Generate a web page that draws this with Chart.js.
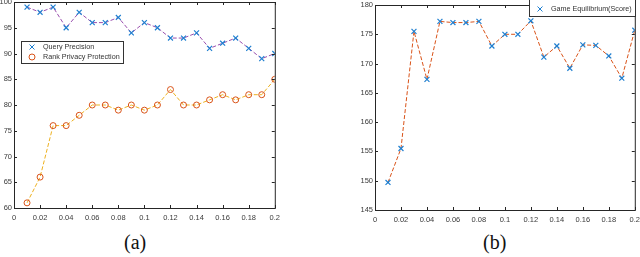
<!DOCTYPE html>
<html>
<head>
<meta charset="UTF-8">
<script src="https://cdn.jsdelivr.net/npm/chart.js@4.4.1/dist/chart.umd.min.js"></script>
<style>
  html, body { margin: 0; padding: 0; background: #fff; width: 640px; height: 257px; overflow: hidden; }
  .wrap { position: absolute; }
  #boxA { left: 0; top: -6px; width: 285px; height: 232px; }
  #boxB { left: 340px; top: -3px; width: 305px; height: 231px; }
  .cap { position: absolute; font-family: "Liberation Serif", "DejaVu Serif", serif; font-size: 20px; color: #111; }
</style>
</head>
<body>
<div class="wrap" id="boxA"><canvas id="chartA"></canvas></div>
<div class="wrap" id="boxB"><canvas id="chartB"></canvas></div>
<div class="cap" style="left:124px; top:231px;">(a)</div>
<div class="cap" style="left:483px; top:231px;">(b)</div>

<script>
// x values shared by both plots
const xs = [0.01, 0.02, 0.03, 0.04, 0.05, 0.06, 0.07, 0.08, 0.09, 0.1,
            0.11, 0.12, 0.13, 0.14, 0.15, 0.16, 0.17, 0.18, 0.19, 0.2];

// (a)
const queryPrecision = [99, 98, 99, 95, 98, 96, 96, 97, 94, 96, 95, 93, 93, 94, 91, 92, 93, 91, 89, 90];
const rankPrivacy    = [61, 66, 76, 76, 78, 80, 80, 79, 80, 79, 80, 83, 80, 80, 81, 82, 81, 82, 82, 85];

// (b)
const gameEquilibrium = [149.7, 155.5, 175.5, 167.3, 177.2, 177, 177, 177.2, 173, 175,
                         175, 177.3, 171.1, 173, 169.2, 173.2, 173.1, 171.3, 167.5, 175.7];

const xTickStep = 0.02;
const yTicksA = { min: 60, max: 100, step: 5 };
const yTicksB = { min: 145, max: 180, step: 5 };

const tickFont = { family: 'Liberation Sans, Arial, sans-serif', size: 7.5 };
const axisColor = '#3a3a3a';

function pts(ys) { return xs.map((x, i) => ({ x: x, y: ys[i] })); }

// box around plot area + inward ticks on all four sides
const boxPlugin = {
  id: 'box',
  afterDraw(chart) {
    const { ctx, chartArea: a, scales } = chart;
    ctx.save();
    ctx.strokeStyle = '#262626';
    ctx.lineWidth = 1;
    ctx.strokeRect(a.left + 0.5, a.top + 0.5, a.right - a.left, a.bottom - a.top);
    const L = 3;
    ctx.beginPath();
    scales.x.ticks.forEach(t => {
      const px = Math.round(scales.x.getPixelForValue(t.value)) + 0.5;
      ctx.moveTo(px, a.bottom); ctx.lineTo(px, a.bottom - L);
      ctx.moveTo(px, a.top); ctx.lineTo(px, a.top + L);
    });
    scales.y.ticks.forEach(t => {
      const py = Math.round(scales.y.getPixelForValue(t.value)) + 0.5;
      ctx.moveTo(a.left, py); ctx.lineTo(a.left + L, py);
      ctx.moveTo(a.right, py); ctx.lineTo(a.right - L, py);
    });
    ctx.stroke();

    // legend
    const lg = chart.options.plugins.boxLegend;
    if (lg) {
      const x0 = a.left + lg.dx, y0 = a.top + lg.dy;
      ctx.fillStyle = '#fff';
      ctx.fillRect(x0, y0, lg.w, lg.h);
      ctx.strokeStyle = '#333';
      ctx.strokeRect(x0 + 0.5, y0 + 0.5, lg.w, lg.h);
      ctx.font = '7.2px "Liberation Sans", Arial, sans-serif';
      ctx.textBaseline = 'middle';
      chart.data.datasets.forEach((ds, i) => {
        const cy = y0 + lg.first + i * lg.gap;
        const cx = x0 + 11;
        ctx.strokeStyle = ds.pointBorderColor;
        ctx.lineWidth = 1;
        ctx.beginPath();
        if (ds.pointStyle === 'circle') {
          ctx.arc(cx, cy, 3, 0, Math.PI * 2);
        } else {
          ctx.moveTo(cx - 2.5, cy - 2.5); ctx.lineTo(cx + 2.5, cy + 2.5);
          ctx.moveTo(cx + 2.5, cy - 2.5); ctx.lineTo(cx - 2.5, cy + 2.5);
        }
        ctx.stroke();
        ctx.fillStyle = '#333';
        ctx.fillText(ds.label, x0 + 22, cy + 0.5);
      });
    }
    ctx.restore();
  }
};

function makeChart(id, datasets, yr, yWidth, pad, legend) {
  return new Chart(document.getElementById(id), {
    type: 'line',
    data: { datasets: datasets },
    options: {
      responsive: true,
      maintainAspectRatio: false,
      animation: false,
      layout: { padding: pad },
      plugins: { legend: { display: false }, tooltip: { enabled: false }, boxLegend: legend },
      scales: {
        x: {
          type: 'linear', min: 0, max: 0.2,
          grid: { display: false, drawTicks: false },
          border: { display: false },
          ticks: {
            stepSize: xTickStep, font: tickFont, color: axisColor, padding: 5,
            maxRotation: 0, autoSkip: false,
            callback: v => String(Number(v.toFixed(2)))
          },
          afterFit: s => { s.height = 18; }
        },
        y: {
          min: yr.min, max: yr.max,
          grid: { display: false, drawTicks: false },
          border: { display: false },
          ticks: { stepSize: yr.step, font: tickFont, color: axisColor, padding: 2, autoSkip: false },
          afterFit: s => { s.width = yWidth; }
        }
      }
    },
    plugins: [boxPlugin]
  });
}

makeChart('chartA', [
  {
    label: 'Query Precision', data: pts(queryPrecision),
    borderColor: '#9a4fae', borderWidth: 1, borderDash: [4, 2],
    pointStyle: 'crossRot', pointRadius: 3.5, pointBorderColor: '#1f7fd0', pointBorderWidth: 1.2,
    pointBackgroundColor: 'transparent'
  },
  {
    label: 'Rank Privacy Protection', data: pts(rankPrivacy),
    borderColor: '#EDB120', borderWidth: 1, borderDash: [4, 2],
    pointStyle: 'circle', pointRadius: 3, pointBorderColor: '#D95319', pointBorderWidth: 1,
    pointBackgroundColor: 'transparent'
  }
], yTicksA, 14, { top: 8, right: 10, left: 0, bottom: 0 },
   { dx: 7, dy: 39, w: 102, h: 22, first: 6, gap: 10 });

makeChart('chartB', [
  {
    label: 'Game Equilibrium(Score)', data: pts(gameEquilibrium),
    borderColor: '#D95319', borderWidth: 1, borderDash: [4, 2],
    pointStyle: 'crossRot', pointRadius: 3.5, pointBorderColor: '#1f7fd0', pointBorderWidth: 1.2,
    pointBackgroundColor: 'transparent'
  }
], yTicksB, 35, { top: 8, right: 10, left: 0, bottom: 0 },
   { dx: 154, dy: -6, w: 106, h: 17, first: 10, gap: 10 });
</script>
</body>
</html>
